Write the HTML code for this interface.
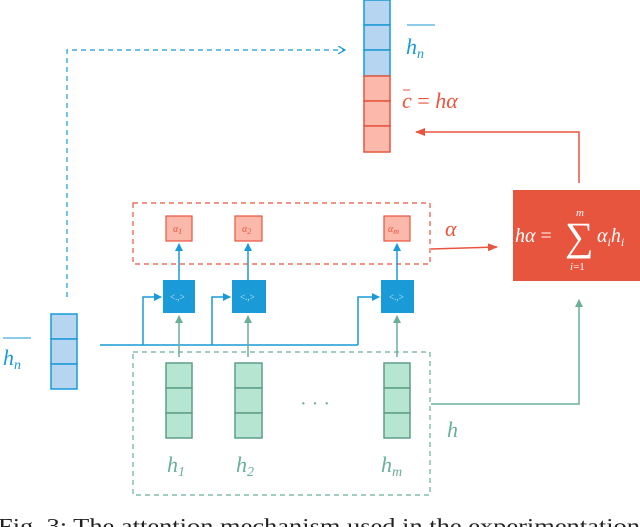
<!DOCTYPE html>
<html><head><meta charset="utf-8"><style>
html,body{margin:0;padding:0;background:#fff;width:640px;height:527px;overflow:hidden}
svg text{font-family:"Liberation Serif",serif;font-style:italic}
svg .n{font-style:normal}
</style></head><body>
<svg width="640" height="527" viewBox="0 0 640 527" xmlns="http://www.w3.org/2000/svg">
<defs>
<marker id="ab" markerWidth="8" markerHeight="8" refX="7" refY="4" orient="auto" markerUnits="userSpaceOnUse"><path d="M0,0 L8,4 L0,8 z" fill="#1a9ad6"/></marker>
<marker id="ar" markerWidth="10" markerHeight="8" refX="9" refY="4" orient="auto" markerUnits="userSpaceOnUse"><path d="M0,0 L10,4 L0,8 z" fill="#e8553f"/></marker>
<marker id="ag" markerWidth="8" markerHeight="10" refX="7" refY="4" orient="auto" markerUnits="userSpaceOnUse"><path d="M0,0 L8,4 L0,8 z" fill="#6aaf9a"/></marker>
<marker id="ao" markerWidth="8" markerHeight="8" refX="7" refY="4" orient="auto" markerUnits="userSpaceOnUse"><path d="M0,0 L7,4 L0,8" fill="none" stroke="#1a9ad6" stroke-width="1.2"/></marker>
</defs>
<g stroke="#1a9ad6" stroke-width="1.5" fill="#b5d5f0">
<rect x="364" y="0" width="26" height="25"/><rect x="364" y="25" width="26" height="25"/><rect x="364" y="50" width="26" height="26"/>
</g>
<g stroke="#e8553f" stroke-width="1.5" fill="#fbb9ab">
<rect x="364" y="76" width="26" height="25"/><rect x="364" y="101" width="26" height="25"/><rect x="364" y="126" width="26" height="26"/>
</g>
<line x1="407" y1="25" x2="435" y2="25" stroke="#1a9ad6" stroke-width="1"/>
<text x="406" y="54" font-size="22" fill="#1a9ad6">h<tspan font-size="14" dy="4">n</tspan></text>
<line x1="403" y1="90" x2="410" y2="90" stroke="#e8553f" stroke-width="1"/>
<text x="402" y="108" font-size="22" fill="#e8553f">c <tspan class="n">=</tspan> hα</text>
<path d="M67,297 L67,50 L345,50" fill="none" stroke="#1a9ad6" stroke-width="1.2" stroke-dasharray="5,4" marker-end="url(#ao)"/>
<path d="M579,183 L579,132 L416,132" fill="none" stroke="#e8553f" stroke-width="1.5" marker-end="url(#ar)"/>
<rect x="513" y="190" width="127" height="91" fill="#e8553f"/>
<text x="515" y="242" font-size="20" fill="#fff">hα <tspan class="n">=</tspan></text>
<text x="565" y="250" font-size="40" fill="#fff" class="n">∑</text>
<text x="576" y="216" font-size="11" fill="#fff">m</text>
<text x="570" y="270" font-size="11" fill="#fff">i<tspan class="n">=1</tspan></text>
<text x="597" y="242" font-size="20" fill="#fff">α<tspan font-size="12" dy="4">i</tspan><tspan dy="-4">h</tspan><tspan font-size="12" dy="4">i</tspan></text>
<rect x="133" y="203" width="297" height="61" fill="none" stroke="#e8553f" stroke-width="1.2" stroke-dasharray="5,4"/>
<g stroke="#e8553f" stroke-width="1.2" fill="#fbb9ab">
<rect x="166" y="216" width="26" height="25"/><rect x="235" y="216" width="27" height="25"/><rect x="384" y="216" width="26" height="25"/>
</g>
<g font-size="10" fill="#e8553f">
<text x="173" y="232">α<tspan font-size="8" dy="2">1</tspan></text>
<text x="242" y="232">α<tspan font-size="8" dy="2">2</tspan></text>
<text x="388" y="232">α<tspan font-size="8" dy="2">m</tspan></text>
</g>
<text x="445" y="236" font-size="22" fill="#e8553f">α</text>
<line x1="431" y1="249" x2="497" y2="247" stroke="#e8553f" stroke-width="1.5" marker-end="url(#ar)"/>
<g stroke="#1a9ad6" stroke-width="1.5">
<line x1="179" y1="280" x2="179" y2="244" marker-end="url(#ab)"/>
<line x1="248" y1="280" x2="248" y2="244" marker-end="url(#ab)"/>
<line x1="397" y1="280" x2="397" y2="244" marker-end="url(#ab)"/>
</g>
<g fill="#1a9ad6">
<rect x="163" y="280" width="32" height="33"/><rect x="232" y="280" width="34" height="33"/><rect x="381" y="280" width="33" height="33"/>
</g>
<g fill="#cfe6f5" font-size="9" class="n">
<text class="n" x="170" y="300">&lt;.,&gt;</text><text class="n" x="240" y="300">&lt;.,&gt;</text><text class="n" x="389" y="300">&lt;.,&gt;</text>
</g>
<g fill="none" stroke="#1a9ad6" stroke-width="1.5">
<path d="M100,345 L358,345"/>
<path d="M143,345 L143,297 L161,297" marker-end="url(#ab)"/>
<path d="M212,345 L212,297 L230,297" marker-end="url(#ab)"/>
<path d="M358,345 L358,297 L379,297" marker-end="url(#ab)"/>
</g>
<g stroke="#1a9ad6" stroke-width="1.5" fill="#b5d5f0">
<rect x="51" y="314" width="26" height="25"/><rect x="51" y="339" width="26" height="25"/><rect x="51" y="364" width="26" height="25"/>
</g>
<line x1="3" y1="338" x2="31" y2="338" stroke="#1a9ad6" stroke-width="1"/>
<text x="3" y="365" font-size="22" fill="#1a9ad6">h<tspan font-size="14" dy="4">n</tspan></text>
<rect x="133" y="352" width="297" height="143" fill="none" stroke="#6aaf9a" stroke-width="1.2" stroke-dasharray="5,4"/>
<g stroke="#6aaf9a" stroke-width="1.5">
<line x1="179" y1="357" x2="179" y2="316" marker-end="url(#ag)"/>
<line x1="248" y1="357" x2="248" y2="316" marker-end="url(#ag)"/>
<line x1="397" y1="357" x2="397" y2="316" marker-end="url(#ag)"/>
</g>
<g stroke="#5e9e8a" stroke-width="1.5" fill="#b6e6d2">
<rect x="166" y="363" width="26" height="25"/><rect x="166" y="388" width="26" height="25"/><rect x="166" y="413" width="26" height="25"/>
<rect x="235" y="363" width="27" height="25"/><rect x="235" y="388" width="27" height="25"/><rect x="235" y="413" width="27" height="25"/>
<rect x="384" y="363" width="26" height="25"/><rect x="384" y="388" width="26" height="25"/><rect x="384" y="413" width="26" height="25"/>
</g>
<text x="300" y="410" font-size="20" fill="#6aaf9a" class="n">· · ·</text>
<g font-size="22" fill="#6aaf9a">
<text x="167" y="472">h<tspan font-size="14" dy="4">1</tspan></text>
<text x="236" y="472">h<tspan font-size="14" dy="4">2</tspan></text>
<text x="381" y="472">h<tspan font-size="14" dy="4">m</tspan></text>
<text x="447" y="437">h</text>
</g>
<path d="M431,404 L579,404 L579,300" fill="none" stroke="#6aaf9a" stroke-width="1.5" marker-end="url(#ag)"/>
<text class="n" x="-2" y="533" font-size="21" fill="#222" textLength="642" lengthAdjust="spacingAndGlyphs">Fig. 3: The attention mechanism used in the experimentation</text>
</svg>
</body></html>
